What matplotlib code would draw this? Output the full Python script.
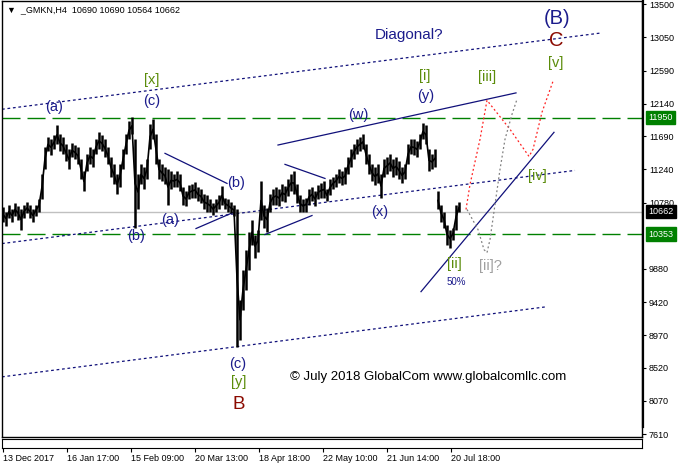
import numpy as np
import matplotlib
matplotlib.use('Agg')
import matplotlib.pyplot as plt
from matplotlib.lines import Line2D

# H4 bars (one sample every 3 bars): highs and lows
bar_high = [10720, 10662, 10745, 10690, 10772, 10731, 10690, 10745, 10786, 10745,
            10690, 10758, 10827, 11170, 11541, 11678, 11651, 11706, 11843, 11719,
            11678, 11582, 11513, 11596, 11568, 11541, 11376, 11211, 11445, 11541,
            11513, 11651, 11747, 11706, 11651, 11541, 11404, 11308, 11170, 11308,
            11513, 11719, 11898, 11953, 11651, 11170, 11308, 11266, 11376, 11857,
            11925, 11719, 11376, 11308, 11266, 11239, 11211, 11170, 11211, 11170,
            10992, 10937, 11019, 11033, 11060, 10992, 10964, 10896, 10882, 10827,
            10772, 10827, 10882, 11005, 10854, 10827, 10786, 10758, 10690, 9454,
            9866, 10140, 10388, 10552, 10346, 10415, 11074, 10758, 10717, 10896,
            10964, 10992, 10964, 11033, 11005, 11102, 11170, 11211, 11033, 10882,
            10827, 10854, 10964, 10992, 10937, 11019, 11047, 11074, 10964, 11102,
            11129, 11170, 11239, 11211, 11266, 11404, 11513, 11582, 11651, 11678,
            11719, 11582, 11445, 11308, 11266, 11308, 11170, 11376, 11404, 11445,
            11376, 11404, 11349, 11266, 11308, 11582, 11651, 11651, 11623, 11719,
            11870, 11843, 11513, 11445, 11513, 10937, 10758, 10662, 10484, 10415,
            10443, 10758, 10786]
bar_low = [10525, 10470, 10580, 10525, 10607, 10552, 10415, 10580, 10635, 10580,
           10525, 10607, 10662, 10827, 11239, 11486, 11431, 11513, 11582, 11486,
           11445, 11349, 11239, 11404, 11376, 11308, 11102, 10937, 11211, 11308,
           11266, 11445, 11513, 11486, 11404, 11308, 11129, 11033, 10896, 10992,
           11239, 11445, 11651, 11719, 10443, 10690, 11033, 10964, 11102, 11513,
           11651, 11308, 11102, 11074, 11033, 10758, 10964, 10992, 10992, 10937,
           10758, 10731, 10827, 10854, 10854, 10800, 10772, 10690, 10662, 10662,
           10621, 10649, 10690, 10758, 10690, 10662, 10635, 10607, 8809, 8905,
           9317, 9591, 9866, 10209, 10031, 10113, 10552, 10443, 10388, 10662,
           10745, 10758, 10731, 10800, 10786, 10868, 10937, 10896, 10772, 10662,
           10649, 10662, 10758, 10800, 10731, 10827, 10854, 10854, 10800, 10882,
           10964, 10992, 11047, 11019, 11033, 11170, 11266, 11376, 11445, 11486,
           11513, 11308, 11170, 11074, 11019, 11047, 10854, 11129, 11170, 11211,
           11129, 11157, 11102, 11047, 11102, 11308, 11445, 11431, 11404, 11513,
           11651, 11582, 11211, 11239, 11266, 10690, 10525, 10443, 10209, 10168,
           10278, 10415, 10649]
last_close = 10662
bar_idx = np.arange(1, 3 * len(bar_high), 3)

date_pos = [1, 65, 129, 193, 257, 321, 385, 449]
date_labels = ['13 Dec 2017', '16 Jan 17:00', '15 Feb 09:00', '20 Mar 13:00',
               '18 Apr 18:00', '22 May 10:00', '21 Jun 14:00', '20 Jul 18:00']
price_ticks = [13500, 13050, 12590, 12140, 11690, 11240, 10780, 9880, 9420,
               8970, 8520, 8070, 7610]
levels = [11950, 10353]

# channel / trend lines: (bar, price) end points
chan_top = [(0, 12063), (598, 13106)]
chan_mid = [(0, 10223), (573, 11225)]
chan_low = [(0, 8397), (545, 9358)]
trend_up = [(276, 11573), (514, 12287)]
trend_steep = [(419, 9564), (552, 11747)]
tri_lines = [[(163, 11459), (225, 11047)], [(194, 10429), (231, 10648)],
             [(283, 11308), (323, 11115)], [(263, 10347), (310, 10607)]]
red_path = [(464, 10690), (468, 11033), (478, 11651), (485, 12186), (508, 11788),
            (527, 11417), (531, 11513), (540, 12022), (551, 12447)]
gray_path = [(465, 10690), (476, 10415), (482, 10140), (485, 10099), (488, 10278),
             (493, 10758), (498, 11239), (503, 11651), (510, 11994), (515, 12200)]

navy = '#1c1c8c'
olive = '#5b8c0a'
maroon = '#8b0a00'
lab = 'Liberation Sans'

W, H = 682, 469
fig = plt.figure(figsize=(W / 100, H / 100), dpi=100)
ax = fig.add_axes([2 / W, (H - 437) / H, 640 / W, 436 / H])
ax.set_xlim(0, 640)
ax.set_ylim(7573, 13546)

ax.axhline(last_close, color='#c0c0c0', lw=1, zorder=1)
for lv in levels:
    ax.axhline(lv, color='#008000', lw=1, dashes=(13, 5), zorder=1)

for pts in [chan_top, chan_mid, chan_low]:
    xs, ys = zip(*pts)
    ax.plot(xs, ys, color='#10107a', lw=0.9, dashes=(2.2, 2.2), zorder=2)
for pts in [trend_up, trend_steep] + tri_lines:
    xs, ys = zip(*pts)
    ax.plot(xs, ys, color='#10107a', lw=0.9, zorder=2)
xs, ys = zip(*red_path)
ax.plot(xs, ys, color='#ff2020', lw=0.9, dashes=(1.5, 2), zorder=2)
xs, ys = zip(*gray_path)
ax.plot(xs, ys, color='#808080', lw=0.9, dashes=(1.5, 2), zorder=2)

# price bars
hi = np.array(bar_high)
lo = np.array(bar_low)
brk = 145  # gap down starts at this sample
ax.vlines(bar_idx, lo, hi, color='black', lw=1.8, zorder=3)
mid = (hi + lo) / 2
ax.plot(bar_idx[:brk], mid[:brk], color='black', lw=1.2, zorder=3)
ax.plot(bar_idx[brk:], mid[brk:], color='black', lw=1.2, zorder=3)

ax.set_xticks([])
ax.yaxis.tick_right()
ax.set_yticks(price_ticks)
ax.set_yticklabels([str(p) for p in price_ticks], fontsize=6.5, family=lab, ha='left')
ax.tick_params(axis='y', length=3, width=0.8, pad=2)
for s in ax.spines.values():
    s.set_linewidth(1)

# wave labels
def wl(x, y, s, c=navy, fs=10.5):
    ax.text(x, y, s, color=c, fontsize=fs, family=lab, ha='center', va='center', zorder=4)

wl(52, 12090, '(a)')
wl(150, 12460, '[x]', olive)
wl(150, 12180, '(c)')
wl(134, 10330, '(b)')
wl(168, 10540, '(a)')
wl(234, 11050, '(b)')
wl(236, 8570, '(c)')
wl(237, 8330, '[y]', olive)
wl(237, 8020, 'B', maroon, 13.5)
wl(356, 11980, '(w)')
wl(378, 10650, '(x)')
wl(423, 12520, '[i]', olive)
wl(424, 12250, '(y)')
wl(485, 12500, '[iii]', olive)
wl(535, 11150, '[iv]', olive)
wl(452, 9940, '[ii]', olive)
wl(454, 9700, '50%', fs=7)
wl(488, 9920, '[ii]?', '#a0a0a0')
wl(555, 13300, '(B)', navy, 14.5)
wl(554, 13000, 'C', maroon, 14.5)
wl(554, 12690, '[v]', olive)
ax.text(373, 13080, 'Diagonal?', color=navy, fontsize=11, family=lab, va='center')
ax.text(288, 8400, '\u00a9 July 2018 GlobalCom www.globalcomllc.com', color='black',
        fontsize=9.5, family=lab, va='center')
ax.text(0.008, 0.979, '\u25bc  _GMKN,H4  10690 10690 10564 10662', transform=ax.transAxes,
        fontsize=6.5, family=['Liberation Sans', 'DejaVu Sans'], va='center')

# boxed price labels on the right
for val, bg in [(11950, '#008000'), (last_close, 'black'), (10353, '#008000')]:
    ax.text(1.0105, val, str(val), transform=ax.get_yaxis_transform(), color='white',
            fontsize=6.5, family=lab, va='center', ha='left', zorder=5, clip_on=False,
            bbox=dict(boxstyle='square,pad=0.25', fc=bg, ec=bg))

# thick bar on the price scale
fig.add_artist(Line2D([642.5 / W, 642.5 / W], [(H - 427) / H, 1], color='black', lw=1.6))

# empty sub-window carrying the time scale
ax2 = fig.add_axes([2 / W, (H - 448) / H, 640 / W, 9 / H])
ax2.set_xlim(0, 640)
ax2.set_yticks([])
ax2.set_xticks(date_pos)
ax2.set_xticklabels(date_labels, fontsize=6.5, family=lab, ha='left')
ax2.tick_params(axis='x', length=3, width=0.8, pad=1)

fig.savefig('out.png', dpi=100)
